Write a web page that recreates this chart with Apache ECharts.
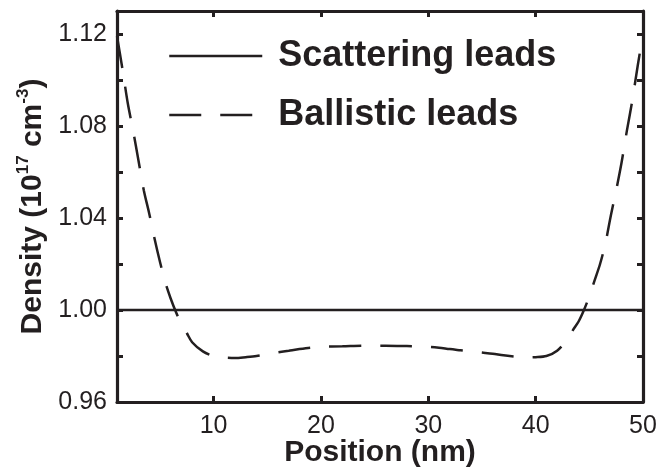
<!DOCTYPE html>
<html>
<head>
<meta charset="utf-8">
<script src="https://cdn.jsdelivr.net/npm/echarts@6/dist/echarts.min.js"></script>
<style>
  html, body { margin: 0; padding: 0; background: #ffffff; }
  #chart { width: 660px; height: 470px; }
</style>
</head>
<body>
<div id="chart"></div>
<script>
// Carrier density along the device, for two lead models
const seriesNames = ['Scattering leads', 'Ballistic leads'];

// Position (nm)
const scatteringX = [1, 5, 10, 15, 20, 25, 30, 35, 40, 45, 50];
const scatteringY = [1.000, 1.000, 1.000, 1.000, 1.000, 1.000, 1.000, 1.000, 1.000, 1.000, 1.000];

const ballisticX = [1, 1.5, 2, 2.5, 3, 3.5, 4, 4.5, 5, 5.5, 6, 6.5, 7, 7.5, 8, 9, 10, 11, 12, 13, 14,
  15, 16, 17, 18, 19, 20, 22, 24, 26, 28, 30, 31, 32, 33, 34, 35, 36, 37, 38, 39, 40, 41, 42,
  43, 43.5, 44, 44.5, 45, 45.5, 46, 46.5, 47, 47.5, 48, 48.5, 49, 49.5, 50];
const ballisticY = [1.119, 1.105, 1.090, 1.078, 1.065, 1.052, 1.042, 1.031, 1.021, 1.012, 1.005, 0.999,
  0.994, 0.990, 0.986, 0.982, 0.980, 0.9793, 0.9791, 0.9795, 0.9800,
  0.9808, 0.9816, 0.9823, 0.9830, 0.9836, 0.9840, 0.9842, 0.9845, 0.9845, 0.9843, 0.9840, 0.9836,
  0.9830, 0.9825, 0.9820, 0.9815, 0.9810, 0.9803, 0.9798, 0.9794, 0.9795, 0.9800, 0.9823,
  0.9875, 0.9915, 0.9950, 1.000, 1.006, 1.013, 1.020, 1.029, 1.041, 1.052, 1.064, 1.078, 1.091, 1.106, 1.120];

// Axis ranges and ticks
const xRange = [1, 50];
const yRange = [0.96, 1.13];
const yTickStep = 0.02;
const yLabelStep = 0.04;

const ink = '#231f20';
const font = 'Arial, "Liberation Sans", Helvetica, sans-serif';
const dashPattern = [32, 19];

function pairs(xs, ys) { return xs.map((x, i) => [x, ys[i]]); }

function yLabel(v) {
  const k = Math.round(v * 100);
  const step = Math.round(yLabelStep * 100);
  if (v > 1.121 || k % step !== 0) return '';
  return v.toFixed(2);
}

const frame = {
  axisLine: { show: true, lineStyle: { color: ink, width: 3.2 } },
  axisTick: { show: true, inside: true, length: 6, lineStyle: { color: ink, width: 3 } },
  splitLine: { show: false }
};

const chart = echarts.init(document.getElementById('chart'), null, { renderer: 'canvas' });
chart.setOption({
  animation: false,
  backgroundColor: '#ffffff',
  grid: { left: 117, right: 17, top: 11, bottom: 68, containLabel: false, outerBoundsMode: 'none' },
  legend: {
    orient: 'vertical',
    left: 163,
    top: 31,
    itemWidth: 93,
    itemHeight: 3,
    itemGap: 19,
    itemStyle: { opacity: 0 },
    textStyle: {
      color: ink, fontFamily: font, fontWeight: 'bold', fontSize: 36, lineHeight: 40,
      padding: [0, 0, 0, 11]
    },
    data: [
      { name: seriesNames[0], lineStyle: { color: ink, width: 2.5, type: 'solid' } },
      { name: seriesNames[1], lineStyle: { color: ink, width: 2.5, type: dashPattern } }
    ]
  },
  xAxis: [
    Object.assign({
      type: 'value', min: xRange[0], max: xRange[1],
      minInterval: 10, maxInterval: 10,
      position: 'bottom',
      name: 'Position (nm)',
      nameLocation: 'middle',
      nameGap: 36,
      nameMoveOverlap: false,
      nameTextStyle: { color: ink, fontFamily: font, fontWeight: 'bold', fontSize: 30 },
      axisLabel: {
        color: ink, fontFamily: font, fontSize: 25, margin: 12,
        showMinLabel: false, showMaxLabel: true
      }
    }, frame),
    Object.assign({
      type: 'value', min: xRange[0], max: xRange[1],
      minInterval: 10, maxInterval: 10,
      position: 'top',
      axisLabel: { show: false }
    }, frame)
  ],
  yAxis: [
    Object.assign({
      type: 'value', min: yRange[0], max: yRange[1], interval: yTickStep,
      position: 'left',
      name: '{b|Density (10}{s|17}{b| cm}{s|-3}{b|)}',
      nameLocation: 'middle',
      nameGap: 66,
      nameMoveOverlap: false,
      nameTextStyle: {
        color: ink, fontFamily: font, fontWeight: 'bold', fontSize: 30,
        rich: {
          b: { color: ink, fontFamily: font, fontWeight: 'bold', fontSize: 30, lineHeight: 36 },
          s: { color: ink, fontFamily: font, fontWeight: 'bold', fontSize: 17, lineHeight: 17, verticalAlign: 'top' }
        }
      },
      axisLabel: {
        color: ink, fontFamily: font, fontSize: 25, margin: 10,
        showMaxLabel: false,
        formatter: yLabel
      }
    }, frame),
    Object.assign({
      type: 'value', min: yRange[0], max: yRange[1], interval: yTickStep,
      position: 'right',
      axisLabel: { show: false }
    }, frame)
  ],
  series: [
    {
      name: seriesNames[0],
      type: 'line',
      xAxisIndex: 0, yAxisIndex: 0,
      data: pairs(scatteringX, scatteringY),
      symbol: 'none',
      lineStyle: { color: ink, width: 2.5, type: 'solid' },
      itemStyle: { color: ink }
    },
    {
      name: seriesNames[1],
      type: 'line',
      xAxisIndex: 0, yAxisIndex: 0,
      data: pairs(ballisticX, ballisticY),
      symbol: 'none',
      smooth: 0.3,
      lineStyle: { color: ink, width: 2.5, type: dashPattern, cap: 'butt' },
      itemStyle: { color: ink }
    }
  ]
});
</script>
</body>
</html>
